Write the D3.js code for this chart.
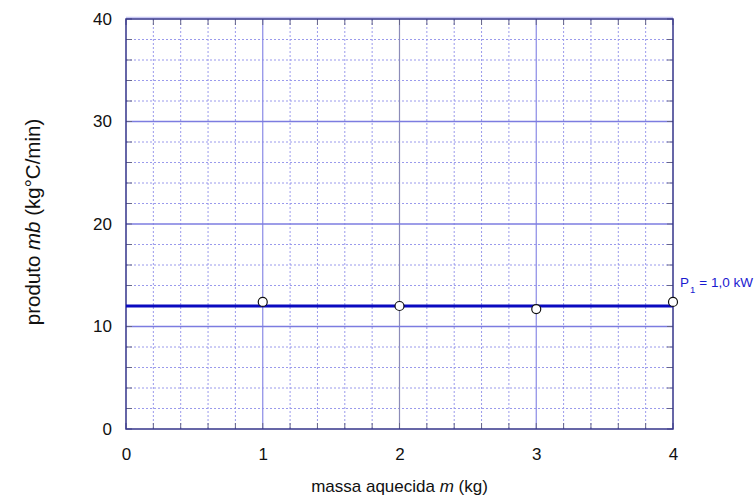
<!DOCTYPE html>
<html>
<head>
<meta charset="utf-8">
<script src="https://cdn.jsdelivr.net/npm/d3@7"></script>
<style>
  body { margin: 0; background: #fff; }
  text { font-family: "Liberation Sans", Arial, sans-serif; }
</style>
</head>
<body>
<div id="container"></div>
<script>
// measured points (mass in kg, product m*b in kg°C/min)
let massa = [1, 2, 3, 4];
let produto = [12.4, 12.0, 11.7, 12.4];
// fitted constant line for P1
let ajusteX = [0, 4];
let ajusteY = [12.0, 12.0];
let xTicks = [0, 1, 2, 3, 4];
let yTicks = [0, 10, 20, 30, 40];
let rotulo = "= 1,0 kW";

let w = 756;
let h = 499;
let padL = 126, padR = 673, padT = 19, padB = 429;

let viz = d3.select("#container")
  .append("svg")
    .attr("width", w)
    .attr("height", h);

let xScale = d3.scaleLinear().domain([0, 4]).range([padL, padR]);
let yScale = d3.scaleLinear().domain([0, 40]).range([padB, padT]);

let xMinor = d3.range(0, 4.01, 0.2).filter(v => Math.abs(v - Math.round(v)) > 0.01);
let yMinor = d3.range(0, 40.01, 2).filter(v => v % 10 !== 0);

// light band above the frame
viz.append("line")
  .attr("x1", padL).attr("x2", padR)
  .attr("y1", padT - 1.5).attr("y2", padT - 1.5)
  .attr("stroke", "#c8c8f4").attr("stroke-width", 1.5);

// minor grid
let grid = viz.append("g").attr("class", "grid");
grid.selectAll(".vminor").data(xMinor).enter().append("line")
  .attr("x1", d => xScale(d)).attr("x2", d => xScale(d))
  .attr("y1", padT).attr("y2", padB)
  .attr("stroke", "#9a9aec").attr("stroke-width", 1)
  .attr("stroke-dasharray", "2,2");
grid.selectAll(".hminor").data(yMinor).enter().append("line")
  .attr("x1", padL).attr("x2", padR)
  .attr("y1", d => yScale(d)).attr("y2", d => yScale(d))
  .attr("stroke", "#9a9aec").attr("stroke-width", 1)
  .attr("stroke-dasharray", "2,2");

// major grid
grid.selectAll(".vmajor").data(xTicks.slice(1, -1)).enter().append("line")
  .attr("x1", d => xScale(d)).attr("x2", d => xScale(d))
  .attr("y1", padT).attr("y2", padB)
  .attr("stroke", d => d === 2 ? "#8c8cb8" : "#8a8ae6").attr("stroke-width", 1.2);
grid.selectAll(".hmajor").data(yTicks.slice(1, -1)).enter().append("line")
  .attr("x1", padL).attr("x2", padR)
  .attr("y1", d => yScale(d)).attr("y2", d => yScale(d))
  .attr("stroke", "#7c7ce0").attr("stroke-width", 1.6);

// inward ticks on all sides
let ticks = viz.append("g").attr("class", "ticks").attr("stroke", "#66668a").attr("stroke-width", 1);
let tl = 6;
ticks.selectAll(".tb").data(xMinor.concat(xTicks)).enter().append("line")
  .attr("x1", d => xScale(d)).attr("x2", d => xScale(d))
  .attr("y1", padB).attr("y2", padB - tl);
ticks.selectAll(".tt").data(xMinor.concat(xTicks)).enter().append("line")
  .attr("x1", d => xScale(d)).attr("x2", d => xScale(d))
  .attr("y1", padT).attr("y2", padT + tl);
ticks.selectAll(".tl").data(yMinor.concat(yTicks)).enter().append("line")
  .attr("x1", padL).attr("x2", padL + tl)
  .attr("y1", d => yScale(d)).attr("y2", d => yScale(d));
ticks.selectAll(".tr").data(yMinor.concat(yTicks)).enter().append("line")
  .attr("x1", padR).attr("x2", padR - tl)
  .attr("y1", d => yScale(d)).attr("y2", d => yScale(d));

// axes (labels only, frame drawn separately)
let xAxis = d3.axisBottom(xScale).tickValues(xTicks).tickFormat(d3.format("d")).tickSize(0).tickPadding(19);
let xAxisGroup = viz.append("g")
    .attr("class", "xaxisgroup")
    .attr("transform", "translate(0," + padB + ")")
    .call(xAxis);
let yAxis = d3.axisLeft(yScale).tickValues(yTicks).tickFormat(d3.format("d")).tickSize(0).tickPadding(14);
let yAxisGroup = viz.append("g")
    .attr("class", "yaxisgroup")
    .attr("transform", "translate(" + padL + ",0)")
    .call(yAxis);
viz.selectAll(".xaxisgroup path, .yaxisgroup path").remove();
viz.selectAll(".xaxisgroup text, .yaxisgroup text")
  .style("font-family", "'Liberation Sans', Arial, sans-serif")
  .style("font-size", "17px")
  .attr("fill", "#111");

// frame
viz.append("rect")
  .attr("x", padL).attr("y", padT)
  .attr("width", padR - padL).attr("height", padB - padT)
  .attr("fill", "none").attr("stroke", "#35358a").attr("stroke-width", 1.5);

// fitted line
let lineMaker = d3.line().x(d => xScale(d[0])).y(d => yScale(d[1]));
viz.append("path")
  .datum(d3.zip(ajusteX, ajusteY))
  .attr("d", lineMaker)
  .attr("fill", "none")
  .attr("stroke", "#0a0ac0")
  .attr("stroke-width", 3);

// points
viz.selectAll(".ponto").data(d3.zip(massa, produto)).enter().append("circle")
  .attr("class", "ponto")
  .attr("cx", d => xScale(d[0]))
  .attr("cy", d => yScale(d[1]))
  .attr("r", 4.5)
  .attr("fill", "#fff")
  .attr("stroke", "#111")
  .attr("stroke-width", 1.2);

// annotation
let ann = viz.append("text")
  .attr("x", padR + 7)
  .attr("y", yScale(produto[3]) - 15)
  .attr("fill", "#1a1ad0")
  .style("font-size", "13.5px");
ann.append("tspan").text("P");
ann.append("tspan").attr("dy", 6).attr("dx", 1).style("font-size", "9.5px").text("1");
ann.append("tspan").attr("dy", -6).attr("dx", 4).text(rotulo);

// axis titles
let xt = viz.append("text")
  .attr("x", (padL + padR) / 2)
  .attr("y", 492)
  .attr("text-anchor", "middle")
  .style("font-size", "17px")
  .attr("fill", "#111");
xt.append("tspan").text("massa aquecida ");
xt.append("tspan").style("font-style", "italic").text("m");
xt.append("tspan").text(" (kg)");

let yt = viz.append("text")
  .attr("transform", "translate(40," + ((padT + padB) / 2 - 2) + ") rotate(-90)")
  .attr("text-anchor", "middle")
  .style("font-size", "20.5px")
  .attr("fill", "#111");
yt.append("tspan").text("produto ");
yt.append("tspan").style("font-style", "italic").text("mb");
yt.append("tspan").text(" (kg°C/min)");
</script>
</body>
</html>
